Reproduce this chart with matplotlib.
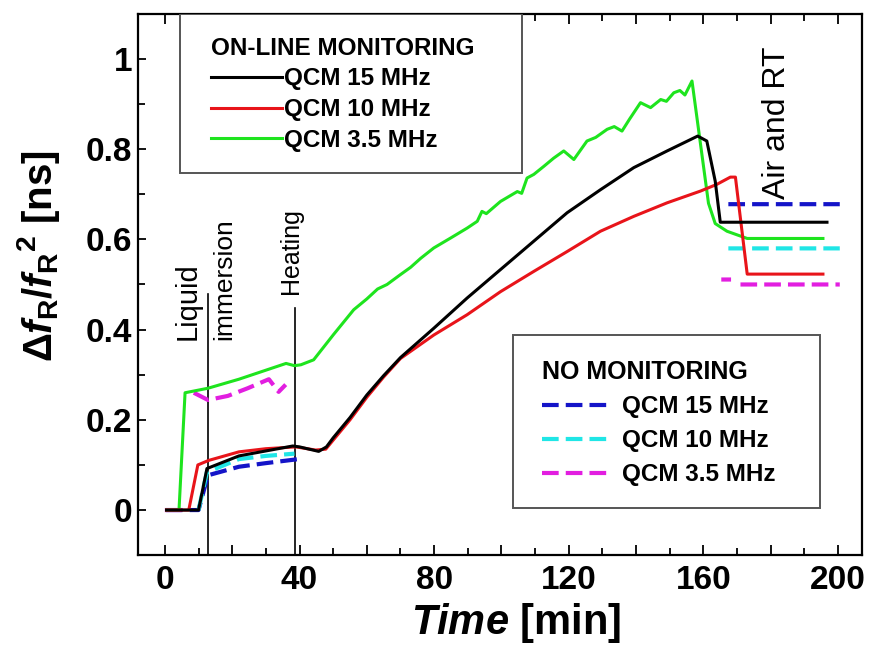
import numpy as np
import matplotlib
matplotlib.use("Agg")
import matplotlib.pyplot as plt
from matplotlib.patches import Rectangle
from matplotlib.ticker import MultipleLocator

plt.rcParams['font.family'] = ['Liberation Sans', 'DejaVu Sans']
plt.rcParams['font.weight'] = 'bold'
plt.rcParams['mathtext.fontset'] = 'custom'
plt.rcParams['mathtext.rm'] = 'Liberation Sans:bold'
plt.rcParams['mathtext.it'] = 'Liberation Sans:bold:italic'
plt.rcParams['mathtext.bf'] = 'Liberation Sans:bold'

# ---------------- data ----------------
# On-line monitoring
t_15 = [0.5, 10, 12.5, 22, 30, 38, 40, 45.7, 48, 50, 55, 60, 65, 70, 79.9, 89.8, 99.7, 109.6, 119.5, 129.4, 139.3, 149.2,
        158.3, 161, 163.5, 165, 196.7]
v_15 = [0.0, 0.0, 0.092, 0.12, 0.131, 0.142, 0.14, 0.13, 0.14, 0.16, 0.205, 0.255, 0.298, 0.338, 0.403, 0.47, 0.533, 0.596,
        0.659, 0.71, 0.759, 0.796, 0.829, 0.818, 0.729, 0.638, 0.638]

t_10 = [0.5, 7.1, 9.8, 13, 22, 30, 38.9, 44.8, 47.8, 50, 55, 60, 65, 70, 79.9, 89.8, 99.7, 109.6, 119.5, 129.4, 139.3, 149.2,
        159.1, 164, 168, 169.5, 173, 195.5]
v_10 = [0.0, 0.0, 0.10, 0.11, 0.129, 0.136, 0.14, 0.133, 0.135, 0.155, 0.2, 0.25, 0.295, 0.336, 0.388, 0.433, 0.484, 0.529,
        0.573, 0.618, 0.651, 0.681, 0.707, 0.722, 0.738, 0.738, 0.523, 0.523]

t_35 = [0.5, 4.2, 6, 12.8, 22, 32, 36, 38.5, 40.4, 44.2, 50.1, 56.1, 60, 63.2, 66, 70, 73, 76, 79.9, 84.9, 89.8, 92.8, 94.2, 95.5,
        99.7, 104.7, 106, 107.6, 109.6, 112.6, 115.5, 118.5, 121.5, 125.4, 128, 131.4, 133.5, 135.8, 138, 141.3, 144.3, 147.3,
        149, 151.2, 153, 154.5, 156.6, 161.5, 163.5, 167, 173, 195.5]
v_35 = [0.0, 0.0, 0.26, 0.27, 0.29, 0.315, 0.325, 0.32, 0.322, 0.333, 0.389, 0.444, 0.468, 0.49, 0.5, 0.522, 0.538, 0.558,
        0.581, 0.603, 0.625, 0.64, 0.662, 0.657, 0.684, 0.706, 0.702, 0.736, 0.744, 0.762, 0.78, 0.796, 0.777, 0.818, 0.826,
        0.844, 0.85, 0.84, 0.866, 0.903, 0.892, 0.91, 0.906, 0.925, 0.93, 0.92, 0.951, 0.68, 0.635, 0.618, 0.602, 0.602]

# No monitoring
tn_15 = [0.3, 10, 12.8, 22, 30, 39.8, np.nan, 167.4, 200.5]
vn_15 = [0.0, 0.0, 0.077, 0.096, 0.104, 0.113, np.nan, 0.678, 0.678]

tn_10 = [10, 12.5, 22, 30, 38.5, np.nan, 167.4, 200.5]
vn_10 = [0.0, 0.084, 0.113, 0.12, 0.125, np.nan, 0.58, 0.58]

tn_35 = [0.0, 5, np.nan, 8.6, 12.8, 18.7, 24.6, 30.9, 33.8, 35.9, np.nan, 165.3, 168.2, np.nan, 171, 200.5]
vn_35 = [0.0, 0.0, np.nan, 0.26, 0.244, 0.253, 0.27, 0.29, 0.262, 0.278, np.nan, 0.511, 0.511, np.nan, 0.50, 0.50]

# events
event_t = [12.7, 38.8]
event_top = [0.48, 0.447]

xticks = [0, 20, 40, 60, 80, 100, 120, 140, 160, 180, 200]
xticklabels = ['0', '', '40', '', '80', '', '120', '', '160', '', '200']
yticks = [0, 0.2, 0.4, 0.6, 0.8, 1.0]
yticklabels = ['0', '0.2', '0.4', '0.6', '0.8', '1']

# --------------- figure ---------------
fig = plt.figure(figsize=(8.73, 6.57), dpi=100)
ax = fig.add_axes([0.158, 0.155, 0.829, 0.824])

for x, top in zip(event_t, event_top):
    ax.plot([x, x], [-0.1, top], color='black', lw=1.2, zorder=1)

dash = (4.0, 1.7)
l_b, = ax.plot(tn_15, vn_15, color='#1414c8', lw=3.0, dashes=dash, label='QCM 15 MHz', zorder=2)
l_c, = ax.plot(tn_10, vn_10, color='#20e6e6', lw=3.0, dashes=dash, label='QCM 10 MHz', zorder=2)
l_m, = ax.plot(tn_35, vn_35, color='#e21ee0', lw=3.0, dashes=dash, label='QCM 3.5 MHz', zorder=2)

l_g, = ax.plot(t_35, v_35, color='#1ee41e', lw=2.2, label='QCM 3.5 MHz', zorder=3)
l_r, = ax.plot(t_10, v_10, color='#e8141a', lw=2.2, label='QCM 10 MHz', zorder=3)
l_k, = ax.plot(t_15, v_15, color='black', lw=2.2, label='QCM 15 MHz', zorder=4)

ax.set_xlim(-8, 207)
ax.set_ylim(-0.1, 1.1)
ax.set_xticks(xticks)
ax.set_xticklabels(xticklabels)
ax.xaxis.set_minor_locator(MultipleLocator(10))
ax.set_yticks(yticks)
ax.set_yticklabels(yticklabels)
ax.yaxis.set_minor_locator(MultipleLocator(0.1))
ax.tick_params(axis='both', which='both', direction='in', top=True, right=False, labelsize=24, width=1.3)
ax.tick_params(axis='x', which='major', length=7, pad=7)
ax.tick_params(axis='x', which='minor', length=5)
ax.tick_params(axis='y', which='major', length=6, pad=4)
ax.tick_params(axis='y', which='minor', length=5)
for sp in ax.spines.values():
    sp.set_linewidth(1.6)

ax.set_xlabel(r'$Time$ [min]', fontsize=30, fontweight='bold')
ax.xaxis.set_label_coords(0.522, -0.085)
ax.set_ylabel(r'$\mathit{\Delta} f_{\mathrm{R}}/f_{\mathrm{R}}{}^{2}$ [ns]', fontsize=29, fontweight='bold')
ax.yaxis.set_label_coords(-0.105, 0.553)

# annotations
ax.text(6.8, 0.378, 'Liquid', rotation=90, ha='center', va='bottom', fontsize=21, fontweight='normal')
ax.text(17.5, 0.378, 'immersion', rotation=90, ha='center', va='bottom', fontsize=19, fontweight='normal')
ax.text(37.4, 0.478, 'Heating', rotation=90, ha='center', va='bottom', fontsize=18, fontweight='normal')
ax.text(182, 0.69, 'Air and RT', rotation=90, ha='center', va='bottom', fontsize=23, fontweight='normal')

# legend boxes
ax.add_patch(Rectangle((0.058, 0.706), 0.472, 0.294, transform=ax.transAxes, fill=True,
                       facecolor='white', edgecolor='#555555', lw=1.4, zorder=5))
ax.add_patch(Rectangle((0.518, 0.087), 0.424, 0.320, transform=ax.transAxes, fill=True,
                       facecolor='white', edgecolor='#555555', lw=1.4, zorder=5))

leg1 = ax.legend(handles=[l_k, l_r, l_g], title='ON-LINE MONITORING', loc='upper left',
                 bbox_to_anchor=(0.101, 0.958), frameon=False, borderpad=0, borderaxespad=0,
                 handlelength=2.9, handletextpad=0.1, labelspacing=0.32,
                 prop={'size': 17.5, 'weight': 'bold'},
                 title_fontproperties={'size': 17.5, 'weight': 'bold'}, alignment='left')
leg1.set_zorder(6)
ax.add_artist(leg1)
leg2 = ax.legend(handles=[l_b, l_c, l_m], title='NO MONITORING', loc='upper left',
                 bbox_to_anchor=(0.558, 0.36), frameon=False, borderpad=0, borderaxespad=0,
                 handlelength=2.7, handletextpad=0.6, labelspacing=0.45,
                 prop={'size': 17.5, 'weight': 'bold'},
                 title_fontproperties={'size': 18, 'weight': 'bold'}, alignment='left')
leg2.set_zorder(6)

fig.savefig('out.png', dpi=100)
